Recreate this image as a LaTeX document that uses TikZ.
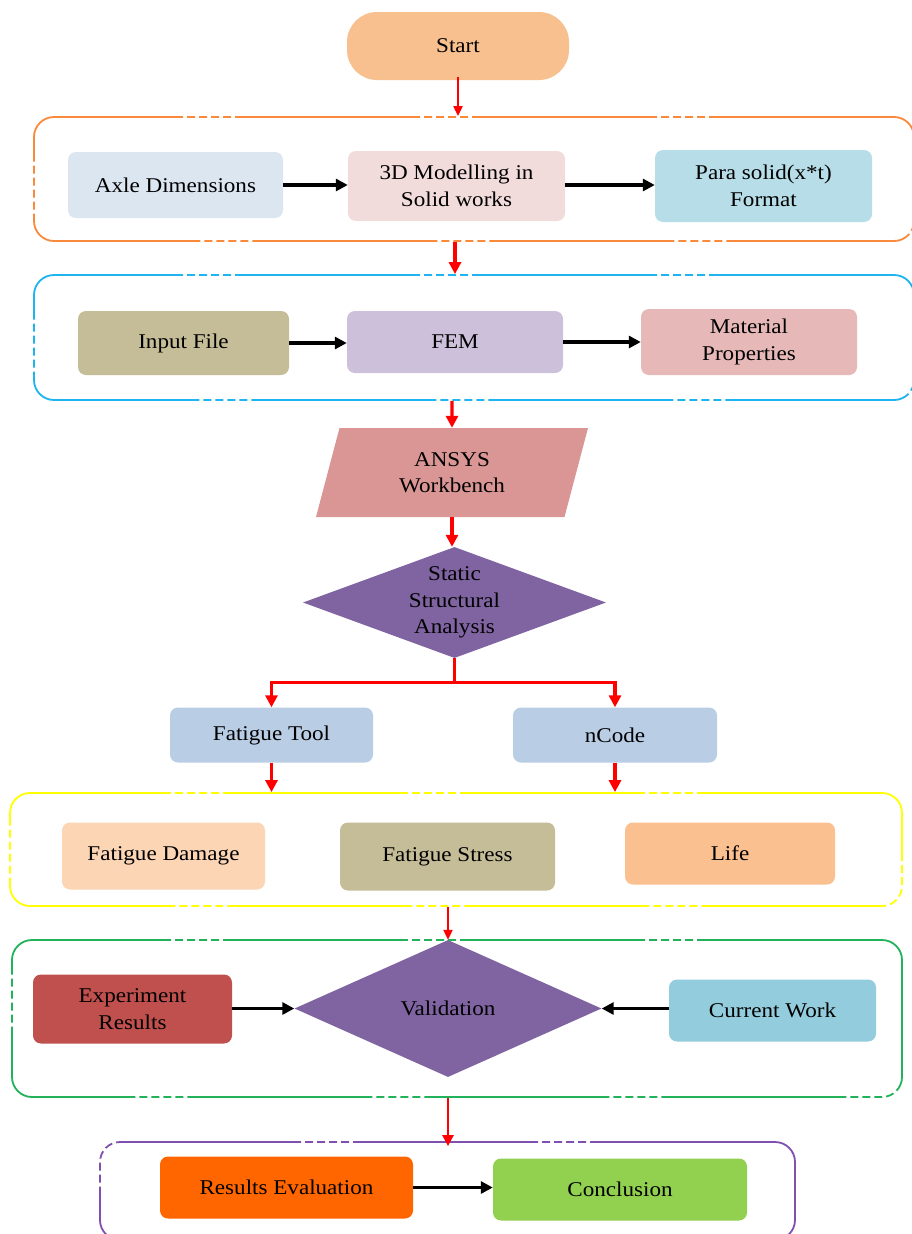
\documentclass[tikz,border=0pt]{standalone}
\usepackage{fontspec}
\setmainfont[FakeStretch=1.1]{Liberation Serif}
\usetikzlibrary{shapes.geometric,arrows.meta}
\definecolor{cStart}{HTML}{F9C08F}
\definecolor{cAxle}{HTML}{DCE6F1}
\definecolor{cModel}{HTML}{F2DCDB}
\definecolor{cPara}{HTML}{B7DEE8}
\definecolor{cInput}{HTML}{C4BD97}
\definecolor{cFem}{HTML}{CCC0DA}
\definecolor{cMat}{HTML}{E6B9B8}
\definecolor{cAnsys}{HTML}{D99694}
\definecolor{cDia}{HTML}{8064A2}
\definecolor{cTool}{HTML}{B9CDE5}
\definecolor{cDam}{HTML}{FCD5B5}
\definecolor{cLife}{HTML}{FAC090}
\definecolor{cExp}{HTML}{C0504D}
\definecolor{cCurr}{HTML}{93CDDD}
\definecolor{cEval}{HTML}{FF6600}
\definecolor{cConc}{HTML}{92D050}
\definecolor{bOrange}{HTML}{F98A3C}
\definecolor{bBlue}{HTML}{1EB4F0}
\definecolor{bYellow}{HTML}{FFFF00}
\definecolor{bGreen}{HTML}{22B35A}
\definecolor{bPurple}{HTML}{8050B0}
\definecolor{aRed}{HTML}{FF0000}
\begin{document}
\begin{tikzpicture}[x=1pt,y=-1pt,
  txt/.style={font=\fontsize{21}{26.5}\selectfont, text=black, align=center},
  box/.style={txt, rounded corners=8pt, inner sep=2pt},
  sz/.style 2 args={minimum width=#1, minimum height=#2},
  cont/.style={draw=#1, line width=1.8pt, rounded corners=20pt, inner sep=0pt,
    dash pattern=on 185pt off 4pt on 8pt off 4pt on 8pt off 4pt on 8pt off 4pt on 8pt off 4pt},
  blk/.style={line width=3.2pt, draw=black, -{Triangle[length=12pt,width=12pt]}},
  rarr/.style={line width=3.4pt, draw=aRed, -{Triangle[length=12pt,width=12pt]}},
  rmid/.style={line width=2.4pt, draw=aRed, -{Triangle[length=11pt,width=11pt]}},
  rthin/.style={line width=2pt, draw=aRed, -{Triangle[length=10pt,width=9pt]}},
  dia/.style={shape=diamond, fill=cDia, inner sep=0pt},
]
\useasboundingbox (0,0) rectangle (912,1234);
\fill[white] (0,0) rectangle (912,1234);

% containers
\node[cont=bOrange, sz={880}{124}] (c1) at (474,179) {};
\node[cont=bBlue, sz={880}{125}] (c2) at (474,337.5) {};
\node[cont=bYellow, sz={892}{113}] (c3) at (456,849.5) {};
\node[cont=bGreen, sz={890}{157}] (c4) at (457,1018.5) {};
\node[cont=bPurple, sz={695}{98}] (c5) at (447.5,1191) {};

% nodes
\node[box, fill=cStart, rounded corners=30pt, sz={222}{68}] (start) at (458,46) {Start};
\node[box, fill=cAxle, sz={215}{66}] (axle) at (175.5,185) {Axle Dimensions};
\node[box, fill=cModel, sz={217}{70}] (model) at (456.5,186) {3D Modelling in\\Solid works};
\node[box, fill=cPara, sz={217}{72}] (para) at (763.5,186) {Para solid(x*t)\\Format};
\node[box, fill=cInput, sz={211}{64}] (input) at (183.5,343) {Input File};
\node[box, fill=cFem, sz={216}{62}] (fem) at (455,342) {FEM};
\node[box, fill=cMat, sz={216}{66}] (mat) at (749,342) {Material\\Properties};
\node[txt, shape=trapezium, trapezium left angle=60, trapezium right angle=120,
      trapezium stretches body, fill=cAnsys, sz={272}{89}, inner sep=0pt] (ansys) at (452,472.5) {ANSYS\\Workbench};
\node[dia, sz={303}{111}, label={[txt]center:Static\\Structural\\Analysis}] (static) at (454.5,602.5) {};
\node[box, fill=cTool, sz={203}{55}] (ftool) at (271.5,735) {Fatigue Tool};
\node[box, fill=cTool, sz={204}{55}] (ncode) at (615,735) {nCode};
\node[box, fill=cDam, sz={203}{67}] (fdam) at (163.5,856) {Fatigue Damage};
\node[box, fill=cInput, sz={215}{68}] (fstress) at (447.5,856.5) {Fatigue Stress};
\node[box, fill=cLife, sz={210}{62}] (life) at (730,853.5) {Life};
\node[dia, sz={307}{137}, label={[txt]center:Validation}] (valid) at (448,1008.5) {};
\node[box, fill=cExp, sz={199}{69}] (exp) at (132.5,1009) {Experiment\\Results};
\node[box, fill=cCurr, sz={207}{62}] (curr) at (772.5,1010.5) {Current Work};
\node[box, fill=cEval, sz={253}{62}] (reval) at (286.5,1187.5) {Results Evaluation};
\node[box, fill=cConc, sz={254}{62}] (concl) at (620,1189.5) {Conclusion};

% black arrows
\draw[blk] (axle.east) -- (model.west |- axle.east);
\draw[blk] (model.east |- axle.east) -- (para.west |- axle.east);
\draw[blk] (input.east) -- (fem.west |- input.east);
\draw[blk] (fem.east) -- (mat.west |- fem.east);
\draw[blk] (exp.east |- valid.west) -- (valid.west);
\draw[blk] (curr.west |- valid.east) -- (valid.east);
\draw[blk] (reval.east) -- (concl.west |- reval.east);

% red arrows
\draw[rthin] ([yshift=3pt]start.south) -- (start.south |- c1.north);
\draw[rarr] (fem.center |- c1.south) -- (fem.center |- c2.north);
\draw[rarr] (ansys.center |- c2.south) -- (ansys.north);
\draw[rarr] (ansys.south) -- (ansys.south |- static.north);
\draw[rarr] (static.south) -- ++(0,24) -| (ftool.north);
\draw[rarr] (static.south) -- ++(0,24) -| (ncode.north);
\draw[rarr] (ftool.south) -- (ftool.south |- c3.north);
\draw[rarr] (ncode.south) -- (ncode.south |- c3.north);
\draw[rthin] (valid.north |- c3.south) -- (valid.north);
\draw[rmid] (valid.center |- c4.south) -- ([yshift=-5pt]valid.center |- c5.north);
\end{tikzpicture}
\end{document}
